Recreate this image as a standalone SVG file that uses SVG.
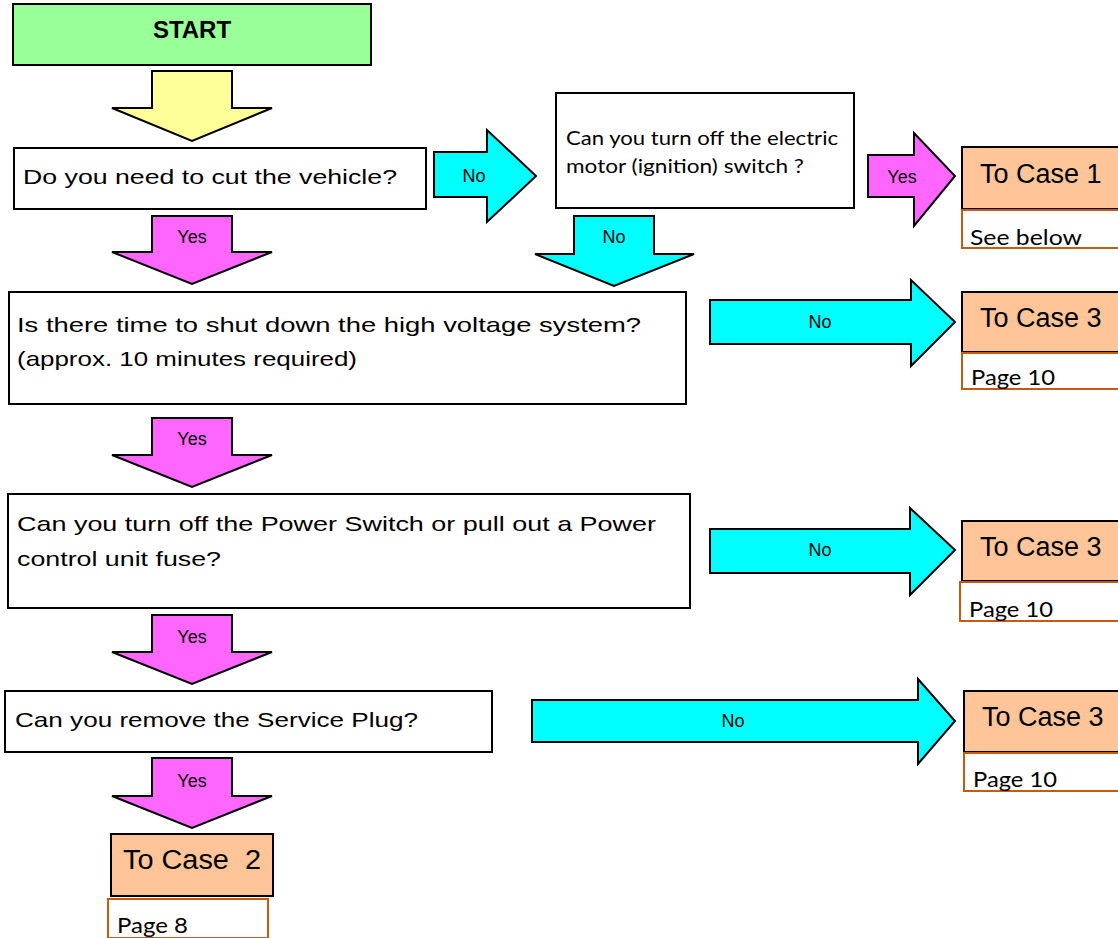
<svg xmlns="http://www.w3.org/2000/svg" width="1118" height="938" viewBox="0 0 1118 938">
<style>
.box{fill:#fff;stroke:#000;stroke-width:2}
.case{fill:#ffc599;stroke:#000;stroke-width:2}
.page{fill:#fff;stroke:#c55a11;stroke-width:2}
.pink{fill:#ff66ff;stroke:#000;stroke-width:2;stroke-linejoin:miter}
.cyan{fill:#00ffff;stroke:#000;stroke-width:2}
.yel{fill:#ffff99;stroke:#000;stroke-width:2}
.q{font-family:"Liberation Sans",Arial,sans-serif;font-size:21px;fill:#000}
.c{font-family:Lato,"Liberation Sans",sans-serif;font-size:20px;fill:#000}
.p{font-family:Lato,"Liberation Sans",sans-serif;font-size:22px;fill:#000}
.lbl{font-family:"Liberation Sans",Arial,sans-serif;font-size:18px;fill:#000;text-anchor:middle}
.ct{font-family:"Liberation Sans",Arial,sans-serif;font-size:27px;fill:#000;white-space:pre}
</style>
<rect width="1118" height="938" fill="#fff"/>
<g id="connectors">
  <polygon class="yel" points="152,71 232,71 232,108 272,108 192,141 112,108 152,108 152,71"/>
  <polygon class="pink" points="152,216 232,216 232,252 272,252 192,284 112,252 152,252"/>
  <text class="lbl" x="192" y="243">Yes</text>
  <polygon class="cyan" points="434,152 487,152 487,130 536,176 487,222 487,197 434,197"/>
  <text class="lbl" x="474" y="182">No</text>
  <polygon class="pink" points="868,155 914,155 914,133 955,176 914,226 914,197 868,197"/>
  <text class="lbl" x="902" y="183">Yes</text>
  <polygon class="cyan" points="574,216 654,216 654,254 694,254 614,286 535,254 574,254"/>
  <text class="lbl" x="614" y="243">No</text>
  <polygon class="cyan" points="710,300 911,300 911,280 955,322 911,366 911,344 710,344"/>
  <text class="lbl" x="820" y="328">No</text>
  <polygon class="pink" points="152,418 232,418 232,455 272,455 192,487 112,455 152,455"/>
  <text class="lbl" x="192" y="445">Yes</text>
  <polygon class="cyan" points="710,529 910,529 910,508 955,550 910,595 910,573 710,573"/>
  <text class="lbl" x="820" y="556">No</text>
  <polygon class="pink" points="152,615 232,615 232,652 272,652 192,684 112,652 152,652"/>
  <text class="lbl" x="192" y="643">Yes</text>
  <polygon class="cyan" points="532,700 918,700 918,679 955,721 918,764 918,742 532,742"/>
  <text class="lbl" x="733" y="727">No</text>
  <polygon class="pink" points="152,758 232,758 232,796 272,796 192,828 112,796 152,796"/>
  <text class="lbl" x="192" y="787">Yes</text>
</g>
<g id="start">
  <rect x="13" y="4" width="358" height="61" fill="#99ff99" stroke="#000" stroke-width="2"/>
  <text x="192" y="38" font-family="Liberation Sans,Arial,sans-serif" font-size="24" font-weight="bold" text-anchor="middle">START</text>
</g>
<g id="q1">
  <rect class="box" x="14" y="148" width="412" height="61"/>
  <text class="q" x="23" y="184" textLength="374" lengthAdjust="spacingAndGlyphs">Do you need to cut the vehicle?</text>
</g>
<g id="q2">
  <rect class="box" x="556" y="93" width="298" height="115"/>
  <text class="c" x="566" y="145" textLength="272" lengthAdjust="spacingAndGlyphs">Can you turn off the electric</text>
  <text class="c" x="566" y="173" textLength="238" lengthAdjust="spacingAndGlyphs">motor (ignition) switch ?</text>
</g>
<g id="case1">
  <rect class="case" x="962" y="147" width="160" height="62"/>
  <text class="ct" x="980" y="183">To Case 1</text>
  <rect class="page" x="962" y="210" width="160" height="38"/>
  <text class="p" x="970" y="245" textLength="112" lengthAdjust="spacingAndGlyphs">See below</text>
</g>
<g id="q3">
  <rect class="box" x="9" y="292" width="677" height="112"/>
  <text class="q" x="17" y="332" textLength="624" lengthAdjust="spacingAndGlyphs">Is there time to shut down the high voltage system?</text>
  <text class="q" x="17" y="366" textLength="340" lengthAdjust="spacingAndGlyphs">(approx. 10 minutes required)</text>
</g>
<g id="case3a">
  <rect class="case" x="962" y="292" width="160" height="60"/>
  <text class="ct" x="980" y="327">To Case 3</text>
  <rect class="page" x="962" y="353" width="160" height="36"/>
  <text class="p" x="971" y="385" textLength="84" lengthAdjust="spacingAndGlyphs">Page 10</text>
</g>
<g id="q4">
  <rect class="box" x="8" y="494" width="682" height="114"/>
  <text class="q" x="17" y="531" textLength="639" lengthAdjust="spacingAndGlyphs">Can you turn off the Power Switch or pull out a Power</text>
  <text class="q" x="17" y="566" textLength="204" lengthAdjust="spacingAndGlyphs">control unit fuse?</text>
</g>
<g id="case3b">
  <rect class="case" x="962" y="521" width="160" height="60"/>
  <text class="ct" x="980" y="556">To Case 3</text>
  <rect class="page" x="960" y="582" width="162" height="39"/>
  <text class="p" x="969" y="617" textLength="84" lengthAdjust="spacingAndGlyphs">Page 10</text>
</g>
<g id="q5">
  <rect class="box" x="5" y="691" width="487" height="61"/>
  <text class="q" x="15" y="727" textLength="403" lengthAdjust="spacingAndGlyphs">Can you remove the Service Plug?</text>
</g>
<g id="case3c">
  <rect class="case" x="964" y="691" width="158" height="61"/>
  <text class="ct" x="982" y="726">To Case 3</text>
  <rect class="page" x="964" y="753" width="158" height="38"/>
  <text class="p" x="973" y="787" textLength="84" lengthAdjust="spacingAndGlyphs">Page 10</text>
</g>
<g id="case2">
  <rect class="case" x="111" y="834" width="162" height="62"/>
  <text class="ct" x="123" y="869" textLength="138" lengthAdjust="spacingAndGlyphs" xml:space="preserve">To Case  2</text>
  <rect class="page" x="108" y="899" width="160" height="39"/>
  <text class="p" x="117" y="933" textLength="71" lengthAdjust="spacingAndGlyphs">Page 8</text>
</g>
</svg>
